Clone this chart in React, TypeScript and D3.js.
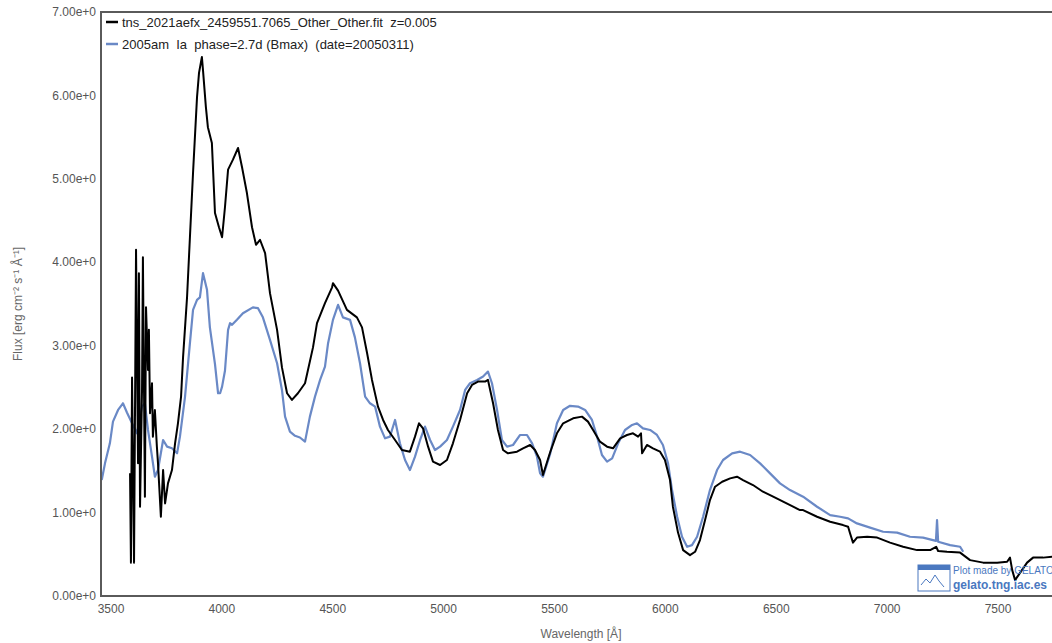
import React, { useMemo } from 'react';
import * as d3 from 'd3';

// 2021aefx observed spectrum (black)
const obsWave = [
  3586, 3590, 3595, 3604, 3613, 3622, 3626, 3631, 3640, 3644, 3653, 3658, 3667, 3671, 3676, 3685, 3689, 3698,
  3707, 3712, 3725, 3735, 3744, 3757, 3775, 3789, 3802, 3816, 3825, 3843, 3856, 3870, 3888, 3897, 3910, 3915,
  3928, 3937, 3955, 3969, 3987, 4001, 4014, 4028, 4050, 4073, 4091, 4113, 4136, 4154, 4172, 4195, 4217, 4249,
  4271, 4294, 4316, 4343, 4375, 4411, 4429, 4465, 4497, 4501, 4524, 4564, 4609, 4632, 4655, 4677, 4704, 4727,
  4749, 4781, 4812, 4848, 4871, 4889, 4907, 4930, 4952, 4984, 5015, 5042, 5074, 5106, 5128, 5155, 5187, 5200,
  5223, 5245, 5268, 5290, 5331, 5358, 5390, 5412, 5435, 5448, 5480, 5511, 5539, 5584, 5624, 5651, 5674, 5705,
  5737, 5764, 5796, 5827, 5854, 5877, 5890, 5895, 5917, 5944, 5976, 5998, 6021, 6034, 6057, 6080, 6111, 6134,
  6156, 6179, 6201, 6224, 6256, 6292, 6323, 6350, 6395, 6440, 6486, 6531, 6576, 6607, 6621, 6684, 6743, 6801,
  6824, 6833, 6846, 6864, 6910, 6955, 7013, 7072, 7135, 7194, 7221, 7230, 7270, 7329, 7374, 7433, 7496, 7541,
  7554, 7564, 7577, 7600, 7631, 7658, 7703, 7744, 7780,
];
const obsFlux = [
  1.47, 0.4, 2.62, 0.4, 4.15, 1.59, 3.87, 1.07, 2.47, 4.06, 1.19, 3.46, 2.71, 3.19, 2.19, 2.55, 1.91, 2.23,
  1.79, 1.59, 0.95, 1.51, 1.11, 1.35, 1.51, 1.83, 2.07, 2.39, 2.86, 3.58, 4.3, 5.07, 5.98, 6.27, 6.46, 6.3,
  5.86, 5.62, 5.43, 4.59, 4.42, 4.3, 4.66, 5.11, 5.23, 5.37, 5.14, 4.83, 4.42, 4.21, 4.27, 4.11, 3.63, 3.19,
  2.74, 2.43, 2.35, 2.43, 2.55, 2.98, 3.27, 3.51, 3.7, 3.75, 3.66, 3.43, 3.34, 3.22, 2.91, 2.59, 2.27, 2.11,
  1.99, 1.87, 1.75, 1.73, 1.91, 2.07, 2.01, 1.79, 1.61, 1.57, 1.63, 1.83, 2.11, 2.43, 2.53, 2.57, 2.57, 2.59,
  2.31, 1.99, 1.75, 1.71, 1.73, 1.77, 1.81, 1.75, 1.63, 1.45, 1.72, 1.95, 2.07, 2.13, 2.15, 2.09, 1.99, 1.85,
  1.79, 1.77, 1.89, 1.93, 1.95, 1.91, 1.95, 1.71, 1.81, 1.77, 1.73, 1.63, 1.39, 1.07, 0.76, 0.55, 0.49, 0.53,
  0.67, 0.91, 1.15, 1.31, 1.37, 1.41, 1.43, 1.39, 1.33, 1.25, 1.19, 1.13, 1.07, 1.03, 1.03, 0.95, 0.89, 0.85,
  0.83, 0.75, 0.64, 0.7, 0.71, 0.7, 0.64, 0.59, 0.55, 0.55, 0.59, 0.54, 0.53, 0.52, 0.43, 0.4, 0.4, 0.41,
  0.46, 0.31, 0.19, 0.28, 0.4, 0.46, 0.46, 0.47, 0.46,
];

// 2005am template (blue)
const tplWave = [
  3455, 3459, 3473, 3495, 3509, 3532, 3554, 3572, 3595, 3617, 3640, 3653, 3667, 3685, 3698, 3712, 3735, 3753,
  3775, 3798, 3811, 3834, 3856, 3870, 3888, 3901, 3915, 3933, 3946, 3969, 3983, 3992, 4001, 4014, 4028, 4037,
  4046, 4068, 4095, 4140, 4163, 4185, 4217, 4249, 4271, 4285, 4307, 4330, 4352, 4375, 4397, 4420, 4443, 4465,
  4479, 4501, 4524, 4546, 4578, 4600, 4623, 4646, 4668, 4691, 4713, 4736, 4758, 4781, 4803, 4826, 4848, 4871,
  4894, 4916, 4939, 4961, 4984, 5015, 5042, 5074, 5097, 5119, 5151, 5178, 5200, 5218, 5241, 5263, 5286, 5313,
  5345, 5376, 5399, 5421, 5435, 5448, 5480, 5511, 5539, 5570, 5606, 5638, 5669, 5692, 5714, 5737, 5760, 5787,
  5818, 5850, 5872, 5899, 5931, 5962, 5989, 6012, 6030, 6053, 6075, 6098, 6120, 6143, 6170, 6201, 6233, 6260,
  6301, 6337, 6382, 6427, 6472, 6517, 6562, 6621, 6684, 6743, 6788, 6824, 6864, 6923, 6982, 7045, 7103, 7162,
  7220, 7225, 7230, 7284, 7329, 7343,
];
const tplFlux = [
  1.43, 1.4, 1.59, 1.83, 2.09, 2.23, 2.31, 2.2, 2.07, 1.95, 2.27, 2.31, 1.99, 1.67, 1.43, 1.51, 1.87, 1.79,
  1.77, 1.71, 1.91, 2.39, 3.03, 3.43, 3.55, 3.58, 3.87, 3.67, 3.22, 2.78, 2.43, 2.43, 2.51, 2.7, 3.19, 3.27,
  3.25, 3.31, 3.39, 3.46, 3.45, 3.34, 3.07, 2.79, 2.47, 2.15, 1.97, 1.92, 1.9, 1.85, 2.15, 2.39, 2.59, 2.75,
  3.03, 3.31, 3.49, 3.34, 3.31, 3.1, 2.79, 2.39, 2.31, 2.27, 2.03, 1.89, 1.91, 2.11, 1.83, 1.63, 1.51, 1.67,
  1.87, 2.03, 1.87, 1.75, 1.79, 1.87, 2.03, 2.23, 2.47, 2.55, 2.59, 2.63, 2.69, 2.55, 2.23, 1.87, 1.79, 1.81,
  1.93, 1.93, 1.83, 1.67, 1.47, 1.43, 1.7, 2.07, 2.23, 2.28, 2.27, 2.23, 2.11, 1.91, 1.69, 1.61, 1.65, 1.83,
  1.99, 2.05, 2.07, 2.01, 1.99, 1.93, 1.81, 1.59, 1.27, 0.95, 0.71, 0.59, 0.61, 0.71, 0.95, 1.27, 1.51, 1.63,
  1.71, 1.73, 1.69, 1.59, 1.47, 1.35, 1.27, 1.19, 1.07, 0.97, 0.95, 0.93, 0.87, 0.82, 0.77, 0.76, 0.71, 0.7,
  0.66, 0.91, 0.65, 0.61, 0.59, 0.53,
];

const legendLabels = [
  'tns_2021aefx_2459551.7065_Other_Other.fit  z=0.005',
  '2005am  Ia  phase=2.7d (Bmax)  (date=20050311)',
];
const seriesColors = ['#000000', '#6a89c6'];
const xDomain = [3455, 7784];
const yDomain = [0, 7];

const W = 1052;
const H = 643;
const left = 101, top = 12, right = 1061, bottom = 596;

export default function App() {
  const x = useMemo(() => d3.scaleLinear().domain(xDomain).range([left, right]), []);
  const y = useMemo(() => d3.scaleLinear().domain(yDomain).range([bottom, top]), []);

  const line = d3.line<[number, number]>()
    .x(d => x(d[0]))
    .y(d => y(d[1]));

  const obs = obsWave.map((w, i) => [w, obsFlux[i]] as [number, number]);
  const tpl = tplWave.map((w, i) => [w, tplFlux[i]] as [number, number]);
  const fmt = d3.format('.2e');
  const font = '"Liberation Sans", Arial, sans-serif';

  return (
    <svg width={W} height={H} style={{ position: 'absolute', left: 0, top: 0, background: '#fff' }} fontFamily={font}>
      <defs>
        <clipPath id="plot-clip">
          <rect x={left} y={top} width={right - left} height={bottom - top} />
        </clipPath>
      </defs>

      {/* spectra */}
      <g clipPath="url(#plot-clip)" fill="none" strokeLinejoin="round">
        <path d={line(tpl) || undefined} stroke={seriesColors[1]} strokeWidth={2.2} />
        <path d={line(obs) || undefined} stroke={seriesColors[0]} strokeWidth={2} />
      </g>

      {/* frame */}
      <rect x={left} y={top} width={right - left} height={bottom - top} fill="none" stroke="#5a5a5a" strokeWidth={2} />

      {/* y ticks */}
      {y.ticks(7).map(t => (
        <text key={t} x={left - 5} y={y(t)} dy="0.35em" textAnchor="end" fontSize={12} fill="#555">{fmt(t)}</text>
      ))}
      {/* x ticks */}
      {x.ticks(10).map(t => (
        <text key={t} x={x(t)} y={bottom + 17} textAnchor="middle" fontSize={12} fill="#555">{t}</text>
      ))}

      <text x={(left + right) / 2} y={638} textAnchor="middle" fontSize={12} fill="#666">Wavelength [Å]</text>
      <text transform={`translate(22,${(top + bottom) / 2}) rotate(-90)`} textAnchor="middle" fontSize={12} fill="#666">
        Flux [erg cm⁻² s⁻¹ Å⁻¹]
      </text>

      {/* legend */}
      {legendLabels.map((lab, i) => (
        <g key={lab} transform={`translate(106,${22 + i * 22})`}>
          <line x1={0} x2={12} y1={0} y2={0} stroke={seriesColors[i]} strokeWidth={2.5} />
          <text x={16} y={0} dy="0.35em" fontSize={13} fill="#222" style={{ whiteSpace: 'pre' }}>{lab}</text>
        </g>
      ))}

      {/* GELATO badge */}
      <g transform="translate(918,565)">
        <rect x={0} y={0} width={32} height={26} fill="#fff" stroke="#4a78c0" strokeWidth={1} />
        <rect x={0} y={0} width={32} height={5} fill="#4a78c0" />
        <path d="M3,20 L8,14 L12,18 L17,10 L21,16 L26,22" fill="none" stroke="#4a78c0" strokeWidth={1} />
        <text x={35} y={9} fontSize={10} fill="#4a78c0">Plot made by GELATO</text>
        <text x={35} y={24} fontSize={12} fontWeight="bold" fill="#4a78c0">gelato.tng.iac.es</text>
      </g>
    </svg>
  );
}
